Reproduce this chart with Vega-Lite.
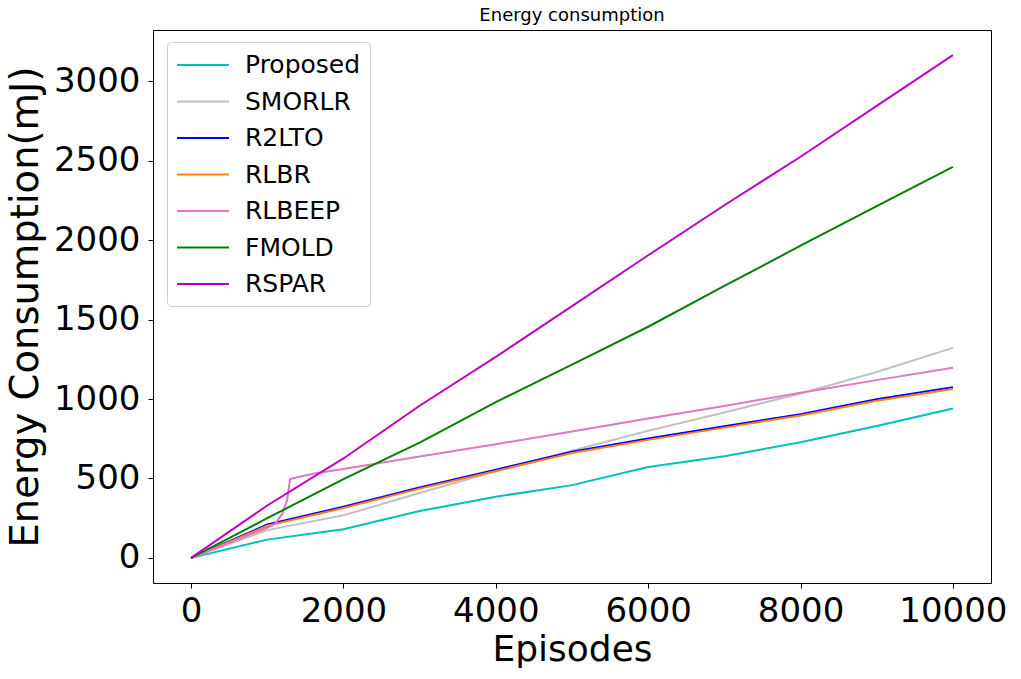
{
  "$schema": "https://vega.github.io/schema/vega-lite/v6.json",
  "width": 838,
  "height": 553,
  "autosize": "none",
  "padding": {"left": 153, "top": 30, "right": 30, "bottom": 96},
  "background": "white",
  "config": {
    "font": "DejaVu Sans",
    "view": {"stroke": "black", "strokeWidth": 1}
  },
  "title": {"text": "Energy consumption", "fontSize": 18, "fontWeight": "normal", "font": "DejaVu Sans", "color": "black", "offset": 5},
  "data": {"values": [
    {"method": "Proposed", "episode": 0, "energy": 0},
    {"method": "Proposed", "episode": 1000, "energy": 115},
    {"method": "Proposed", "episode": 2000, "energy": 180},
    {"method": "Proposed", "episode": 3000, "energy": 295},
    {"method": "Proposed", "episode": 4000, "energy": 385},
    {"method": "Proposed", "episode": 5000, "energy": 458},
    {"method": "Proposed", "episode": 6000, "energy": 572},
    {"method": "Proposed", "episode": 7000, "energy": 640},
    {"method": "Proposed", "episode": 8000, "energy": 728},
    {"method": "Proposed", "episode": 9000, "energy": 830},
    {"method": "Proposed", "episode": 10000, "energy": 940},
    {"method": "SMORLR", "episode": 0, "energy": 0},
    {"method": "SMORLR", "episode": 1000, "energy": 175},
    {"method": "SMORLR", "episode": 2000, "energy": 268},
    {"method": "SMORLR", "episode": 3000, "energy": 408},
    {"method": "SMORLR", "episode": 4000, "energy": 545},
    {"method": "SMORLR", "episode": 5000, "energy": 675},
    {"method": "SMORLR", "episode": 6000, "energy": 800},
    {"method": "SMORLR", "episode": 7000, "energy": 915},
    {"method": "SMORLR", "episode": 8000, "energy": 1035},
    {"method": "SMORLR", "episode": 9000, "energy": 1170},
    {"method": "SMORLR", "episode": 10000, "energy": 1322},
    {"method": "R2LTO", "episode": 0, "energy": 0},
    {"method": "R2LTO", "episode": 1000, "energy": 210},
    {"method": "R2LTO", "episode": 2000, "energy": 322},
    {"method": "R2LTO", "episode": 3000, "energy": 444},
    {"method": "R2LTO", "episode": 4000, "energy": 555},
    {"method": "R2LTO", "episode": 5000, "energy": 668},
    {"method": "R2LTO", "episode": 6000, "energy": 751},
    {"method": "R2LTO", "episode": 7000, "energy": 828},
    {"method": "R2LTO", "episode": 8000, "energy": 905},
    {"method": "R2LTO", "episode": 9000, "energy": 998},
    {"method": "R2LTO", "episode": 10000, "energy": 1075},
    {"method": "RLBR", "episode": 0, "energy": 0},
    {"method": "RLBR", "episode": 1000, "energy": 202},
    {"method": "RLBR", "episode": 2000, "energy": 314},
    {"method": "RLBR", "episode": 3000, "energy": 436},
    {"method": "RLBR", "episode": 4000, "energy": 547},
    {"method": "RLBR", "episode": 5000, "energy": 660},
    {"method": "RLBR", "episode": 6000, "energy": 743},
    {"method": "RLBR", "episode": 7000, "energy": 820},
    {"method": "RLBR", "episode": 8000, "energy": 897},
    {"method": "RLBR", "episode": 9000, "energy": 989},
    {"method": "RLBR", "episode": 10000, "energy": 1063},
    {"method": "RLBEEP", "episode": 0, "energy": 0},
    {"method": "RLBEEP", "episode": 1000, "energy": 190},
    {"method": "RLBEEP", "episode": 1100, "energy": 213},
    {"method": "RLBEEP", "episode": 1200, "energy": 280},
    {"method": "RLBEEP", "episode": 1260, "energy": 365},
    {"method": "RLBEEP", "episode": 1300, "energy": 497},
    {"method": "RLBEEP", "episode": 1600, "energy": 530},
    {"method": "RLBEEP", "episode": 2000, "energy": 560},
    {"method": "RLBEEP", "episode": 3000, "energy": 638},
    {"method": "RLBEEP", "episode": 4000, "energy": 716},
    {"method": "RLBEEP", "episode": 5000, "energy": 795},
    {"method": "RLBEEP", "episode": 6000, "energy": 877},
    {"method": "RLBEEP", "episode": 7000, "energy": 956},
    {"method": "RLBEEP", "episode": 8000, "energy": 1040},
    {"method": "RLBEEP", "episode": 9000, "energy": 1119},
    {"method": "RLBEEP", "episode": 10000, "energy": 1197},
    {"method": "FMOLD", "episode": 0, "energy": 0},
    {"method": "FMOLD", "episode": 1000, "energy": 250},
    {"method": "FMOLD", "episode": 2000, "energy": 496},
    {"method": "FMOLD", "episode": 3000, "energy": 726},
    {"method": "FMOLD", "episode": 4000, "energy": 980},
    {"method": "FMOLD", "episode": 5000, "energy": 1217},
    {"method": "FMOLD", "episode": 6000, "energy": 1455},
    {"method": "FMOLD", "episode": 7000, "energy": 1712},
    {"method": "FMOLD", "episode": 8000, "energy": 1965},
    {"method": "FMOLD", "episode": 9000, "energy": 2215},
    {"method": "FMOLD", "episode": 10000, "energy": 2462},
    {"method": "RSPAR", "episode": 0, "energy": 0},
    {"method": "RSPAR", "episode": 1000, "energy": 330},
    {"method": "RSPAR", "episode": 2000, "energy": 626},
    {"method": "RSPAR", "episode": 3000, "energy": 958},
    {"method": "RSPAR", "episode": 4000, "energy": 1265},
    {"method": "RSPAR", "episode": 5000, "energy": 1585},
    {"method": "RSPAR", "episode": 6000, "energy": 1905},
    {"method": "RSPAR", "episode": 7000, "energy": 2220},
    {"method": "RSPAR", "episode": 8000, "energy": 2525},
    {"method": "RSPAR", "episode": 9000, "energy": 2845},
    {"method": "RSPAR", "episode": 10000, "energy": 3165}
  ]},
  "mark": {"type": "line", "strokeWidth": 2, "clip": true},
  "encoding": {
    "x": {
      "field": "episode", "type": "quantitative",
      "scale": {"domain": [-500, 10500], "nice": false, "zero": false},
      "axis": {
        "title": "Episodes", "titleFontSize": 36, "titleFont": "DejaVu Sans", "titleFontWeight": "normal", "titleColor": "black", "titlePadding": 4,
        "values": [0, 2000, 4000, 6000, 8000, 10000], "format": "d",
        "labelFontSize": 34, "labelFont": "DejaVu Sans", "labelColor": "black", "labelPadding": 6,
        "tickSize": 5, "tickColor": "black", "domain": false, "grid": false, "labelFlush": false, "labelOverlap": false
      }
    },
    "y": {
      "field": "energy", "type": "quantitative",
      "scale": {"domain": [-158, 3323], "nice": false, "zero": false},
      "axis": {
        "title": "Energy Consumption(mJ)", "titleFontSize": 38.5, "titleFont": "DejaVu Sans", "titleFontWeight": "normal", "titleColor": "black", "titlePadding": 8,
        "values": [0, 500, 1000, 1500, 2000, 2500, 3000], "format": "d",
        "labelFontSize": 34, "labelFont": "DejaVu Sans", "labelColor": "black", "labelPadding": 8,
        "tickSize": 5, "tickColor": "black", "domain": false, "grid": false, "labelFlush": false, "labelOverlap": false
      }
    },
    "color": {
      "field": "method", "type": "nominal",
      "sort": ["Proposed", "SMORLR", "R2LTO", "RLBR", "RLBEEP", "FMOLD", "RSPAR"],
      "scale": {
        "domain": ["Proposed", "SMORLR", "R2LTO", "RLBR", "RLBEEP", "FMOLD", "RSPAR"],
        "range": ["#00bfbf", "#c0c0c0", "#0000ff", "#ff7f0e", "#e377c2", "#008000", "#bf00bf"]
      },
      "legend": {
        "title": null, "orient": "none", "legendX": 14, "legendY": 12,
        "symbolType": "M-1,0H3", "symbolSize": 676, "symbolStrokeWidth": 2, "symbolFillColor": "transparent",
        "labelFontSize": 25, "labelFont": "DejaVu Sans", "labelColor": "black", "labelOffset": 41,
        "rowPadding": 9.5, "padding": 9,
        "strokeColor": "#cccccc", "fillColor": "white", "cornerRadius": 4
      }
    },
    "order": {"field": "episode", "type": "quantitative"}
  }
}
